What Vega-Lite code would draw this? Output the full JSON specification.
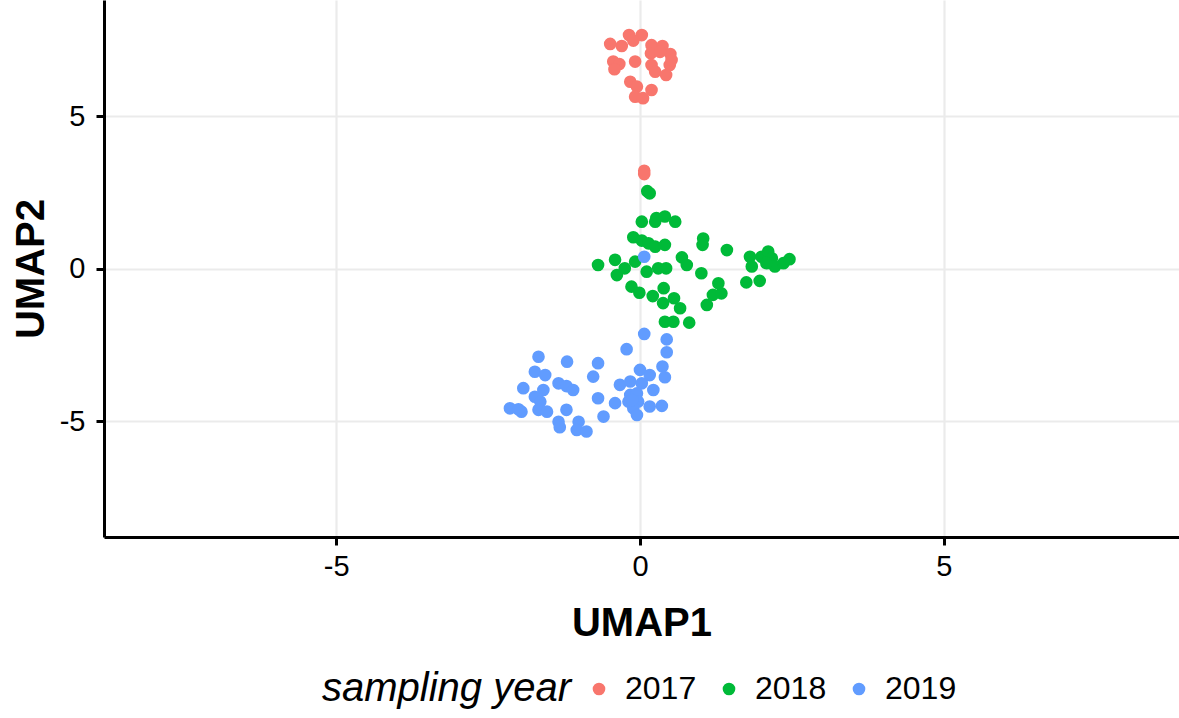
{
  "$schema": "https://vega.github.io/schema/vega-lite/v6.json",
  "width": 1075,
  "height": 537,
  "autosize": {"type": "none"},
  "padding": {"left": 104, "top": 0, "right": 0, "bottom": 181},
  "background": "white",
  "config": {
    "view": {"stroke": null},
    "font": "Liberation Sans"
  },
  "data": {"values": [
    {"u1": -0.49, "u2": 7.38, "year": "2017"},
    {"u1": -0.30, "u2": 7.31, "year": "2017"},
    {"u1": -0.18, "u2": 7.67, "year": "2017"},
    {"u1": 0.03, "u2": 7.67, "year": "2017"},
    {"u1": -0.11, "u2": 7.49, "year": "2017"},
    {"u1": 0.19, "u2": 7.34, "year": "2017"},
    {"u1": 0.37, "u2": 7.31, "year": "2017"},
    {"u1": 0.50, "u2": 7.05, "year": "2017"},
    {"u1": 0.18, "u2": 7.07, "year": "2017"},
    {"u1": 0.33, "u2": 7.12, "year": "2017"},
    {"u1": -0.44, "u2": 6.80, "year": "2017"},
    {"u1": -0.34, "u2": 6.72, "year": "2017"},
    {"u1": -0.08, "u2": 6.80, "year": "2017"},
    {"u1": 0.19, "u2": 6.69, "year": "2017"},
    {"u1": 0.49, "u2": 6.69, "year": "2017"},
    {"u1": -0.42, "u2": 6.55, "year": "2017"},
    {"u1": 0.25, "u2": 6.47, "year": "2017"},
    {"u1": 0.43, "u2": 6.36, "year": "2017"},
    {"u1": -0.16, "u2": 6.14, "year": "2017"},
    {"u1": -0.05, "u2": 5.98, "year": "2017"},
    {"u1": -0.08, "u2": 5.65, "year": "2017"},
    {"u1": 0.05, "u2": 5.60, "year": "2017"},
    {"u1": 0.19, "u2": 5.87, "year": "2017"},
    {"u1": 0.52, "u2": 6.85, "year": "2017"},
    {"u1": 0.07, "u2": 3.22, "year": "2017"},
    {"u1": 0.07, "u2": 3.11, "year": "2017"},
    {"u1": 0.12, "u2": 2.55, "year": "2018"},
    {"u1": 0.16, "u2": 2.48, "year": "2018"},
    {"u1": 0.03, "u2": 1.55, "year": "2018"},
    {"u1": 0.25, "u2": 1.55, "year": "2018"},
    {"u1": 0.27, "u2": 1.67, "year": "2018"},
    {"u1": 0.41, "u2": 1.72, "year": "2018"},
    {"u1": 0.58, "u2": 1.55, "year": "2018"},
    {"u1": -0.11, "u2": 1.04, "year": "2018"},
    {"u1": 0.03, "u2": 0.93, "year": "2018"},
    {"u1": 0.14, "u2": 0.84, "year": "2018"},
    {"u1": 0.25, "u2": 0.73, "year": "2018"},
    {"u1": 0.41, "u2": 0.79, "year": "2018"},
    {"u1": 1.04, "u2": 1.00, "year": "2018"},
    {"u1": 1.03, "u2": 0.79, "year": "2018"},
    {"u1": 1.43, "u2": 0.62, "year": "2018"},
    {"u1": -0.69, "u2": 0.13, "year": "2018"},
    {"u1": -0.41, "u2": 0.30, "year": "2018"},
    {"u1": -0.08, "u2": 0.24, "year": "2018"},
    {"u1": -0.38, "u2": -0.20, "year": "2018"},
    {"u1": -0.25, "u2": 0.02, "year": "2018"},
    {"u1": 0.11, "u2": -0.09, "year": "2018"},
    {"u1": 0.30, "u2": 0.02, "year": "2018"},
    {"u1": 0.43, "u2": 0.02, "year": "2018"},
    {"u1": 0.69, "u2": 0.38, "year": "2018"},
    {"u1": 0.77, "u2": 0.13, "year": "2018"},
    {"u1": 1.01, "u2": -0.14, "year": "2018"},
    {"u1": -0.14, "u2": -0.58, "year": "2018"},
    {"u1": -0.01, "u2": -0.78, "year": "2018"},
    {"u1": 0.21, "u2": -0.89, "year": "2018"},
    {"u1": 0.39, "u2": -0.63, "year": "2018"},
    {"u1": 0.38, "u2": -1.12, "year": "2018"},
    {"u1": 0.56, "u2": -0.96, "year": "2018"},
    {"u1": 0.66, "u2": -1.29, "year": "2018"},
    {"u1": 0.41, "u2": -1.73, "year": "2018"},
    {"u1": 0.55, "u2": -1.73, "year": "2018"},
    {"u1": 0.81, "u2": -1.76, "year": "2018"},
    {"u1": 1.10, "u2": -1.18, "year": "2018"},
    {"u1": 1.20, "u2": -0.85, "year": "2018"},
    {"u1": 1.34, "u2": -0.80, "year": "2018"},
    {"u1": 1.29, "u2": -0.47, "year": "2018"},
    {"u1": 1.81, "u2": 0.40, "year": "2018"},
    {"u1": 1.84, "u2": 0.08, "year": "2018"},
    {"u1": 1.75, "u2": -0.44, "year": "2018"},
    {"u1": 1.97, "u2": -0.39, "year": "2018"},
    {"u1": 2.00, "u2": 0.40, "year": "2018"},
    {"u1": 2.11, "u2": 0.57, "year": "2018"},
    {"u1": 2.17, "u2": 0.35, "year": "2018"},
    {"u1": 2.22, "u2": 0.08, "year": "2018"},
    {"u1": 2.36, "u2": 0.19, "year": "2018"},
    {"u1": 2.46, "u2": 0.32, "year": "2018"},
    {"u1": 2.08, "u2": 0.19, "year": "2018"},
    {"u1": 0.07, "u2": 0.40, "year": "2019"},
    {"u1": 0.07, "u2": -2.13, "year": "2019"},
    {"u1": -0.22, "u2": -2.63, "year": "2019"},
    {"u1": 0.44, "u2": -2.31, "year": "2019"},
    {"u1": 0.44, "u2": -2.73, "year": "2019"},
    {"u1": -1.67, "u2": -2.88, "year": "2019"},
    {"u1": -1.20, "u2": -3.04, "year": "2019"},
    {"u1": -0.69, "u2": -3.09, "year": "2019"},
    {"u1": -1.73, "u2": -3.37, "year": "2019"},
    {"u1": -1.56, "u2": -3.48, "year": "2019"},
    {"u1": -0.77, "u2": -3.53, "year": "2019"},
    {"u1": 0.00, "u2": -3.31, "year": "2019"},
    {"u1": 0.16, "u2": -3.48, "year": "2019"},
    {"u1": 0.37, "u2": -3.20, "year": "2019"},
    {"u1": 0.41, "u2": -3.55, "year": "2019"},
    {"u1": -1.92, "u2": -3.91, "year": "2019"},
    {"u1": -1.59, "u2": -3.97, "year": "2019"},
    {"u1": -1.34, "u2": -3.75, "year": "2019"},
    {"u1": -1.21, "u2": -3.84, "year": "2019"},
    {"u1": -1.10, "u2": -3.97, "year": "2019"},
    {"u1": -0.33, "u2": -3.80, "year": "2019"},
    {"u1": -0.16, "u2": -3.69, "year": "2019"},
    {"u1": 0.03, "u2": -3.75, "year": "2019"},
    {"u1": -1.73, "u2": -4.19, "year": "2019"},
    {"u1": -0.69, "u2": -4.24, "year": "2019"},
    {"u1": -0.16, "u2": -4.13, "year": "2019"},
    {"u1": -0.05, "u2": -4.08, "year": "2019"},
    {"u1": 0.22, "u2": -3.97, "year": "2019"},
    {"u1": -1.64, "u2": -4.35, "year": "2019"},
    {"u1": -0.41, "u2": -4.40, "year": "2019"},
    {"u1": -0.19, "u2": -4.35, "year": "2019"},
    {"u1": -0.03, "u2": -4.35, "year": "2019"},
    {"u1": -2.14, "u2": -4.57, "year": "2019"},
    {"u1": -1.95, "u2": -4.68, "year": "2019"},
    {"u1": -1.67, "u2": -4.62, "year": "2019"},
    {"u1": -1.53, "u2": -4.68, "year": "2019"},
    {"u1": -1.21, "u2": -4.62, "year": "2019"},
    {"u1": -0.60, "u2": -4.84, "year": "2019"},
    {"u1": -0.11, "u2": -4.57, "year": "2019"},
    {"u1": -0.05, "u2": -4.79, "year": "2019"},
    {"u1": 0.16, "u2": -4.51, "year": "2019"},
    {"u1": 0.36, "u2": -4.49, "year": "2019"},
    {"u1": -1.34, "u2": -5.01, "year": "2019"},
    {"u1": -1.32, "u2": -5.19, "year": "2019"},
    {"u1": -1.01, "u2": -5.01, "year": "2019"},
    {"u1": -1.04, "u2": -5.28, "year": "2019"},
    {"u1": -0.88, "u2": -5.33, "year": "2019"},
    {"u1": -2.00, "u2": -4.60, "year": "2019"},
    {"u1": -0.13, "u2": -4.30, "year": "2019"}
  ]},
  "mark": {"type": "point", "filled": true, "opacity": 1, "size": 160, "shape": "circle"},
  "encoding": {
    "x": {"field": "u1", "type": "quantitative", "title": "UMAP1",
      "scale": {"domain": [-8.82, 8.87], "nice": false, "zero": false},
      "axis": {"values": [-5, 0, 5], "labelExpr": "datum.value", "labelPadding": 7, "titlePadding": 22,
        "labelFontSize": 29, "labelColor": "black", "labelFont": "Liberation Sans",
        "titleFontSize": 40, "titleFontWeight": "bold", "titleColor": "black", "titleFont": "Liberation Sans",
        "domainColor": "black", "domainWidth": 3, "tickColor": "black", "tickWidth": 3, "tickSize": 8,
        "gridColor": "#EBEBEB", "gridWidth": 2.2}},
    "y": {"field": "u2", "type": "quantitative", "title": "UMAP2",
      "scale": {"domain": [-8.79, 8.82], "nice": false, "zero": false},
      "axis": {"values": [-5, 0, 5], "labelExpr": "datum.value", "labelPadding": 11, "titlePadding": 8,
        "labelFontSize": 29, "labelColor": "black", "labelFont": "Liberation Sans",
        "titleFontSize": 40, "titleFontWeight": "bold", "titleColor": "black", "titleFont": "Liberation Sans",
        "domainColor": "black", "domainWidth": 3, "tickColor": "black", "tickWidth": 3, "tickSize": 8,
        "gridColor": "#EBEBEB", "gridWidth": 2.2}},
    "color": {"field": "year", "type": "nominal", "title": "sampling year",
      "scale": {"domain": ["2017", "2018", "2019"], "range": ["#F8766D", "#00BA38", "#619CFF"]},
      "legend": {"orient": "none", "legendX": 218, "legendY": 673, "direction": "horizontal",
        "titleOrient": "left", "titleFontSize": 40, "titleFontStyle": "italic", "titleFontWeight": "normal",
        "titleColor": "black", "titlePadding": 11, "labelFontSize": 32, "labelColor": "black",
        "labelOffset": 10, "symbolSize": 160, "symbolType": "circle", "symbolOpacity": 1,
        "columnPadding": 16, "titleBaseline": "middle", "titleLimit": 400, "labelFont": "Liberation Sans", "titleFont": "Liberation Sans"}}
  }
}
